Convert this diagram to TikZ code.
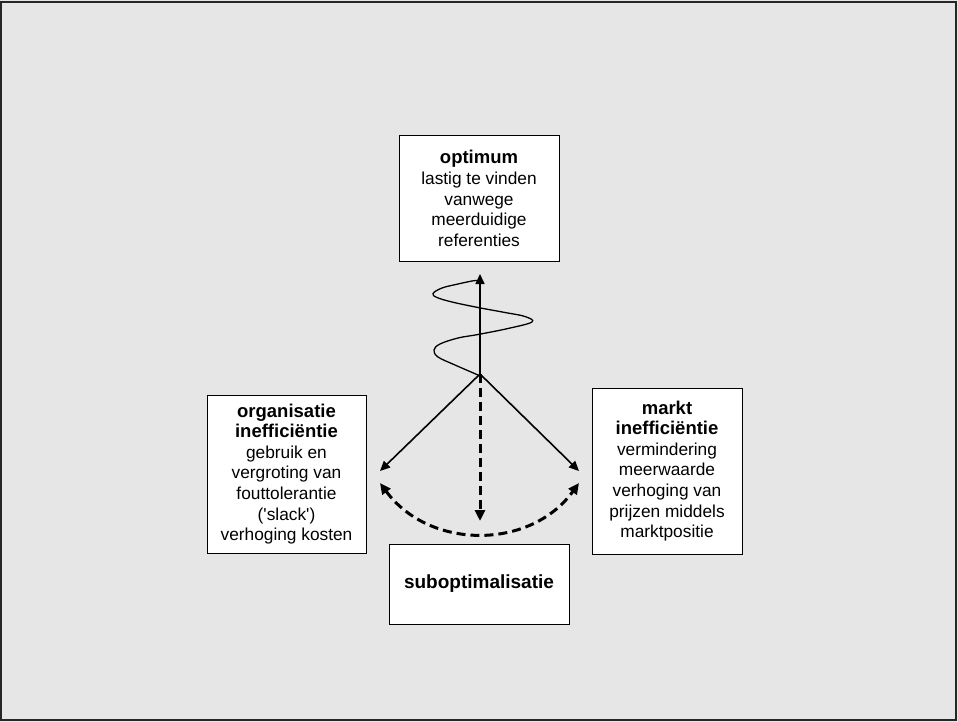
\documentclass[tikz,border=0pt]{standalone}
\usepackage{fontspec}
\setmainfont{Liberation Sans}
\usetikzlibrary{arrows.meta}
\definecolor{bg}{HTML}{E6E6E6}
\tikzset{
  box/.style={draw=black, fill=white, line width=1pt, inner sep=0pt, align=center,
    font=\fontsize{17.3}{20.6}\selectfont},
  tip/.style={Triangle[length=10pt,width=9pt]},
  solidarrow/.style={line width=1.6pt, -{Triangle[length=10pt,width=9pt]}},
  dasharrow/.style={line width=3pt, dash pattern=on 9pt off 5pt, -{Triangle[length=11pt,width=10pt]}},
  dasharc/.style={line width=3pt, dash pattern=on 9pt off 5pt, {Triangle[length=11pt,width=10pt]}-{Triangle[length=11pt,width=10pt]}},
  wave/.style={line width=1.3pt},
}
\newcommand{\ttl}[1]{{\fontsize{18.5}{21}\selectfont\bfseries #1}}
\begin{document}
\begin{tikzpicture}[x=1pt,y=-1pt]
\useasboundingbox (0,0) rectangle (958,722);
\fill[bg] (0,0) rectangle (958,722);
\draw[draw=black!85, line width=2pt] (1,2) rectangle (956,719.5);

\node[box, minimum width=160pt, minimum height=125pt] (opt) at (479,198.5)
  {\ttl{optimum}\\lastig te vinden\\vanwege\\meerduidige\\referenties};
\node[box, minimum width=159pt, minimum height=158pt] (org) at (286.5,474)
  {\ttl{organisatie}\\\ttl{inefficiëntie}\\gebruik en\\vergroting van\\fouttolerantie\\(\textquotesingle slack\textquotesingle)\\verhoging kosten};
\node[box, minimum width=150pt, minimum height=166pt] (mkt) at (667,471)
  {\ttl{markt}\\\ttl{inefficiëntie}\\vermindering\\meerwaarde\\verhoging van\\prijzen middels\\marktpositie};
\node[box, minimum width=180pt, minimum height=80pt] (sub) at (479,584)
  {\fontsize{19}{22}\selectfont\bfseries suboptimalisatie};

\coordinate (c) at (480,374);
\coordinate (up) at (480,274);
\coordinate (lt) at (380,471);
\coordinate (rt) at (579,471);
\coordinate (dn) at (480,521);
\coordinate (al) at (380,483);
\coordinate (ar) at (579,483);

\draw[wave] plot[smooth, tension=0.6] coordinates {(478,375) (455,365) (438,357) (434,350) (440,344) (458,338) (478,334.5) (508,328.5) (532,322) (525,316.5) (505,312.5) (478,307.5) (452,302) (437,297.5) (433,293.5) (442,288) (458,284) (472,281) (477,280.5)};

\draw[solidarrow] (c) -- (up);
\draw[solidarrow] (c) -- (lt);
\draw[solidarrow] (c) -- (rt);
\draw[dasharrow] (c) -- (dn);
\draw[dasharc] (al) .. controls (429.7,550.1) and (530.3,550.1) .. (ar);
\end{tikzpicture}
\end{document}
